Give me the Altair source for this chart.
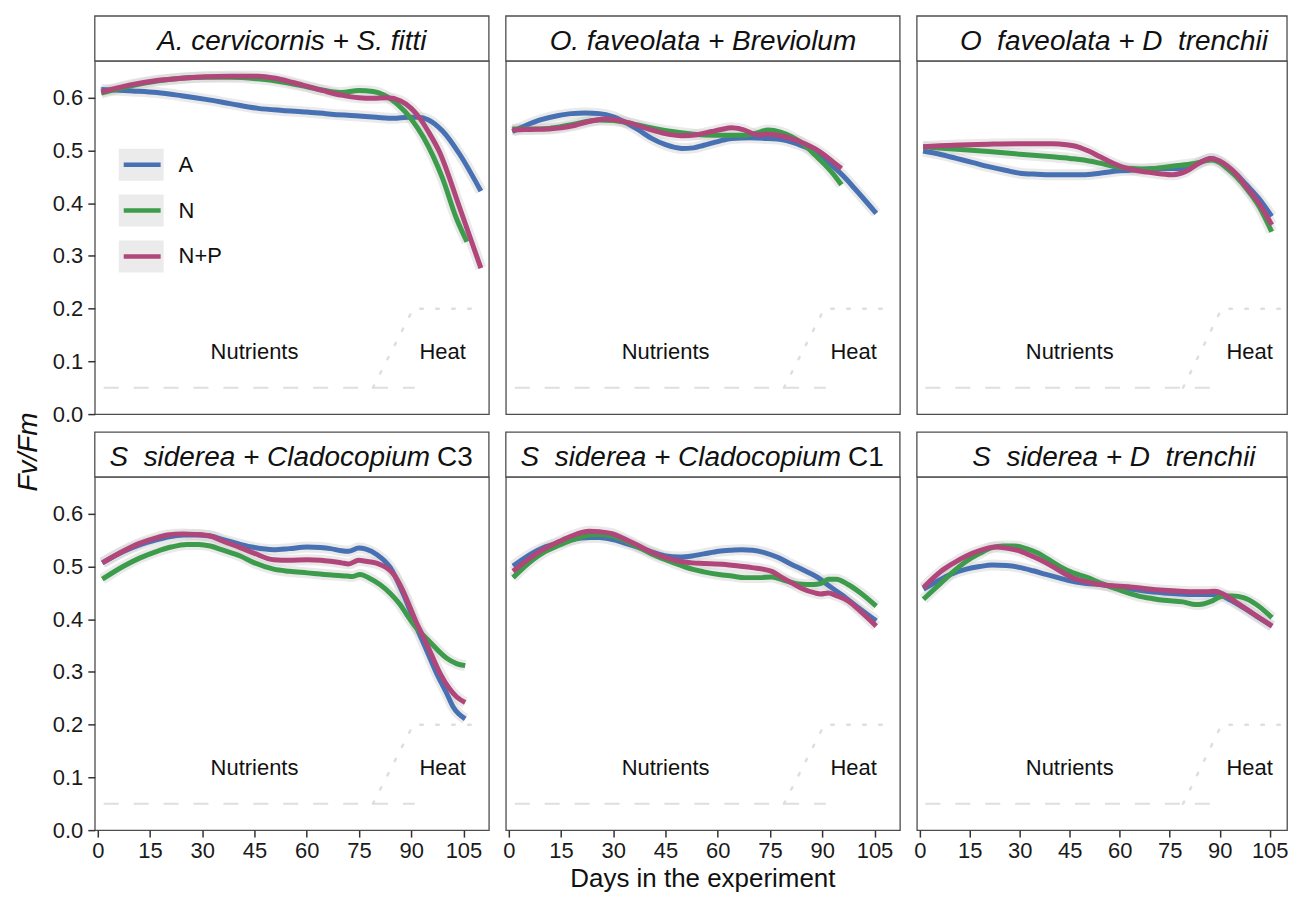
import altair as alt
import pandas as pd

FONT = "Liberation Sans"
TREATMENTS = ["A", "N", "N+P"]
TREATMENT_COLORS = ["#4771b2", "#3d9b4c", "#b04679"]

X_TICKS = [0, 15, 30, 45, 60, 75, 90, 105]
Y_TICKS = [0.0, 0.1, 0.2, 0.3, 0.4, 0.5, 0.6]
X_DOMAIN = [-0.86, 112.3]
X_DOMAIN_RIGHT = [-0.86, 110.2]
Y_DOMAIN = [0.0, 0.67]

NUTRIENT_DAYS = [1.7, 91]
NUTRIENT_LEVEL = [0.05, 0.05]
HEAT_DAYS = [79, 90.6, 109]
HEAT_LEVEL = [0.05, 0.2, 0.2]
PHASE_LABELS = ["Nutrients", "Heat"]
PHASE_LABEL_DAYS = [45, 99]
PHASE_LABEL_Y = [0.118, 0.118]

TITLES_ITALIC = ["A. cervicornis + S. fitti", "O. faveolata + Breviolum",
                 "O\u00a0 faveolata + D\u00a0 trenchii",
                 "S\u00a0 siderea + Cladocopium", "S\u00a0 siderea + Cladocopium",
                 "S\u00a0 siderea + D\u00a0 trenchii"]
TITLES_PLAIN = ["", "", "", "C3", "C1", ""]

# ---- A. cervicornis + S. fitti
ACER_A = [(1, 0.616), (10, 0.613), (17, 0.610), (24, 0.604), (31, 0.597), (38, 0.589), (46, 0.580),
          (53, 0.576), (60, 0.573), (67, 0.569), (74, 0.566), (80, 0.563), (85, 0.561), (89, 0.563),
          (92, 0.563), (95, 0.558), (99, 0.537), (104, 0.492), (110, 0.423)]
ACER_N = [(1, 0.609), (9, 0.622), (17, 0.632), (24, 0.637), (31, 0.639), (38, 0.639), (46, 0.636),
          (53, 0.630), (60, 0.621), (66, 0.613), (70, 0.610), (75, 0.614), (79, 0.612), (82, 0.606),
          (86, 0.588), (90, 0.560), (93.5, 0.525), (99, 0.447), (103, 0.371), (106, 0.327)]
ACER_NP = [(1, 0.611), (9, 0.624), (17, 0.633), (24, 0.637), (31, 0.640), (38, 0.641), (46, 0.641),
           (51, 0.637), (56, 0.629), (60, 0.622), (65, 0.613), (70, 0.605), (75, 0.600), (79, 0.599),
           (83, 0.600), (87, 0.594), (90, 0.580), (92.5, 0.561), (95, 0.535), (98, 0.499), (104, 0.390),
           (110, 0.277)]

# ---- O. faveolata + Breviolum
OFB_A = [(1, 0.536), (5, 0.548), (9, 0.558), (14, 0.566), (18, 0.570), (22, 0.571), (26, 0.570),
         (30, 0.564), (33, 0.555), (37, 0.540), (41, 0.523), (45, 0.511), (49.6, 0.504), (53, 0.505),
         (56, 0.510), (60, 0.517), (64, 0.523), (69, 0.524), (73.5, 0.523), (79, 0.520), (83, 0.512),
         (86, 0.504), (89, 0.491), (92.6, 0.473), (96, 0.452), (99.3, 0.428), (105.5, 0.381)]
OFB_N = [(1, 0.541), (6, 0.541), (11.5, 0.542), (18, 0.549), (25.8, 0.558), (30, 0.557), (35.3, 0.551),
         (41, 0.543), (46.8, 0.536), (53, 0.531), (59.2, 0.529), (64, 0.529), (67.8, 0.529), (71, 0.533),
         (74.5, 0.539), (78, 0.535), (81.2, 0.526), (85, 0.510), (88, 0.491), (90.5, 0.475),
         (92.6, 0.460), (95.5, 0.435)]
OFB_NP = [(1, 0.539), (6, 0.540), (11.5, 0.541), (15, 0.543), (19.1, 0.548), (23, 0.555), (27.7, 0.560),
          (31, 0.558), (35.3, 0.551), (40, 0.541), (44.9, 0.532), (49.6, 0.528), (54, 0.530),
          (58.2, 0.536), (61, 0.540), (64, 0.543), (67, 0.540), (71.6, 0.530), (74, 0.531), (77.3, 0.529),
          (81, 0.523), (85, 0.513), (88, 0.503), (90.7, 0.491), (93, 0.479), (95.5, 0.466)]

# ---- O. faveolata + D. trenchii
OFD_A = [(1, 0.499), (6, 0.493), (11, 0.485), (16, 0.477), (21, 0.469), (26, 0.462), (30, 0.457),
         (35, 0.455), (40, 0.454), (45, 0.454), (49, 0.454), (54, 0.457), (59, 0.461), (64, 0.463),
         (68.4, 0.465), (72, 0.466), (76, 0.466), (80, 0.467), (84, 0.477), (87.5, 0.485), (90, 0.479),
         (92.2, 0.469), (95, 0.455), (98, 0.435), (102, 0.407), (105.6, 0.375)]
OFD_N = [(1, 0.507), (10, 0.503), (20.7, 0.498), (30, 0.493), (39.8, 0.488), (45, 0.485), (49.3, 0.482),
         (54, 0.476), (58.9, 0.469), (64, 0.466), (68.4, 0.465), (73, 0.468), (77, 0.471), (82, 0.475),
         (87.5, 0.482), (90, 0.477), (92.2, 0.466), (95, 0.450), (98, 0.428), (102, 0.392), (105.6, 0.346)]
OFD_NP = [(1, 0.507), (10, 0.510), (20.7, 0.512), (30, 0.513), (39.8, 0.513), (44, 0.511), (47.4, 0.507),
          (51, 0.498), (54.1, 0.488), (58, 0.476), (61.7, 0.467), (65, 0.462), (68.4, 0.459), (72, 0.456),
          (76, 0.454), (79.8, 0.460), (83, 0.473), (87.5, 0.485), (90, 0.480), (92.2, 0.471), (95, 0.455),
          (98, 0.431), (102, 0.398), (105.6, 0.359)]

# ---- S. siderea + Cladocopium C3
SC3_A = [(1.3, 0.507), (7.5, 0.529), (12, 0.541), (17, 0.551), (20, 0.556), (24.7, 0.560), (28, 0.560),
         (32.3, 0.558), (36, 0.551), (40.9, 0.542), (45, 0.536), (50.5, 0.532), (55, 0.534), (60.1, 0.537),
         (64, 0.536), (66.8, 0.534), (70, 0.530), (72, 0.529), (74.9, 0.535), (77, 0.533), (80.1, 0.523),
         (84, 0.498), (87.8, 0.447), (91.6, 0.384), (94.5, 0.340), (97.4, 0.296), (100, 0.262),
         (102.1, 0.233), (105.5, 0.211)]
SC3_N = [(1.3, 0.476), (7.5, 0.501), (12, 0.516), (17, 0.529), (21, 0.537), (25.6, 0.542), (29, 0.542),
         (32.3, 0.539), (36, 0.531), (40.9, 0.520), (45, 0.507), (50.5, 0.495), (55, 0.491), (60.1, 0.488),
         (65, 0.485), (71.5, 0.482), (73, 0.481), (75.3, 0.485), (78, 0.478), (81, 0.466), (84, 0.449),
         (86.8, 0.428), (89, 0.406), (90.7, 0.390), (95.5, 0.356), (100.2, 0.326), (103, 0.316),
         (105.5, 0.312)]
SC3_NP = [(1.3, 0.507), (7.5, 0.530), (12, 0.544), (17, 0.555), (20, 0.560), (24.7, 0.562), (28, 0.561),
          (32.3, 0.558), (36, 0.548), (40.9, 0.536), (45, 0.525), (50.5, 0.513), (55, 0.512),
          (60.1, 0.513), (64, 0.512), (66.8, 0.510), (70, 0.507), (72, 0.505), (74.9, 0.512), (77, 0.510),
          (81, 0.504), (85, 0.485), (87.5, 0.456), (89.7, 0.422), (91.6, 0.392), (93.6, 0.365),
          (96, 0.330), (98.4, 0.296), (101, 0.268), (103, 0.253), (105.5, 0.242)]

# ---- S. siderea + Cladocopium C1
SC1_A = [(1.2, 0.501), (6.9, 0.526), (10, 0.536), (14.6, 0.545), (18, 0.551), (23.1, 0.555), (26, 0.555),
         (29.8, 0.551), (33, 0.545), (37.4, 0.536), (41, 0.528), (45, 0.520), (49, 0.518), (52.6, 0.520),
         (56, 0.524), (60.3, 0.529), (64, 0.531), (66.9, 0.532), (70, 0.531), (73.6, 0.526), (77, 0.518),
         (81.2, 0.504), (85, 0.492), (88.8, 0.479), (92, 0.463), (95.5, 0.447), (100, 0.424),
         (105.5, 0.397)]
SC1_N = [(1.2, 0.479), (6.9, 0.513), (10, 0.527), (14.6, 0.541), (18, 0.550), (23.1, 0.560), (26, 0.561),
         (29.8, 0.558), (33, 0.550), (37.4, 0.536), (41, 0.524), (45, 0.513), (49, 0.503), (52.6, 0.495),
         (56, 0.490), (60.3, 0.485), (64, 0.482), (67.8, 0.479), (72, 0.479), (75.5, 0.480), (79, 0.474),
         (83.1, 0.467), (87.9, 0.466), (90, 0.469), (91.7, 0.476), (94, 0.476), (97.4, 0.466),
         (101, 0.450), (105.5, 0.425)]
SC1_NP = [(1.2, 0.491), (6.9, 0.520), (10, 0.533), (14.6, 0.548), (18, 0.558), (23.1, 0.567), (26, 0.566),
          (29.8, 0.562), (33, 0.553), (37.4, 0.539), (41, 0.527), (45, 0.517), (49, 0.510), (52.6, 0.507),
          (56, 0.506), (62.2, 0.504), (66, 0.501), (69.8, 0.498), (75.5, 0.491), (78, 0.481),
          (81.2, 0.469), (84, 0.459), (87.9, 0.450), (89.5, 0.448), (91.7, 0.450), (94, 0.445),
          (97.4, 0.435), (101, 0.415), (105.5, 0.387)]

# ---- S. siderea + D. trenchii
SD_A = [(1.1, 0.457), (6.4, 0.476), (10, 0.487), (14, 0.495), (18, 0.500), (21.7, 0.503), (26, 0.502),
        (30.3, 0.498), (34, 0.492), (37.9, 0.485), (42, 0.478), (46.5, 0.471), (50, 0.468), (54.1, 0.466),
        (59, 0.461), (63.7, 0.457), (68, 0.453), (73.2, 0.450), (78, 0.448), (82.8, 0.447), (86, 0.447),
        (89.4, 0.447), (93, 0.437), (97.1, 0.422), (101, 0.406), (105.7, 0.387)]
SD_N = [(1.1, 0.438), (6.4, 0.469), (10, 0.490), (14, 0.510), (18, 0.525), (21.7, 0.536), (25, 0.539),
        (28.4, 0.539), (32, 0.534), (35.2, 0.526), (39, 0.512), (42.7, 0.498), (46, 0.488), (50.4, 0.479),
        (54, 0.469), (58, 0.460), (62, 0.451), (65.7, 0.444), (70, 0.439), (73.2, 0.436), (79, 0.433),
        (82.8, 0.428), (85, 0.429), (87.5, 0.434), (89.5, 0.441), (91.4, 0.444), (94, 0.444),
        (97.1, 0.441), (101, 0.428), (105.7, 0.403)]
SD_NP = [(1.1, 0.460), (6.4, 0.491), (10, 0.506), (14, 0.520), (18, 0.530), (22.6, 0.537), (26, 0.535),
         (30.3, 0.529), (34, 0.519), (37.9, 0.507), (42, 0.492), (46.5, 0.477), (50, 0.471), (54.1, 0.466),
         (59, 0.463), (63.7, 0.461), (68, 0.458), (73.2, 0.455), (78, 0.453), (82.8, 0.452), (86, 0.452),
         (88.5, 0.453), (91, 0.448), (95.2, 0.431), (100, 0.411), (105.7, 0.387)]

PANEL_SERIES = [
    [ACER_A, ACER_N, ACER_NP],
    [OFB_A, OFB_N, OFB_NP],
    [OFD_A, OFD_N, OFD_NP],
    [SC3_A, SC3_N, SC3_NP],
    [SC1_A, SC1_N, SC1_NP],
    [SD_A, SD_N, SD_NP],
]

W, W_RIGHT, H = 395, 371, 354
STRIP_H = 45
BORDER = "#4d4d4d"
ONE = pd.DataFrame({"k": [0]})


def anchor(x, y):
    # tiny white rect that fixes the drawing's outer bounds
    return alt.Chart(ONE).mark_rect(fill="white").encode(
        x=alt.value(x), x2=alt.value(x + 1), y=alt.value(y), y2=alt.value(y + 1))


def make_panel(idx):
    row, col = divmod(idx, 3)
    show_x = row == 1
    show_y = col == 0
    width = W_RIGHT if col == 2 else W
    xdom = X_DOMAIN_RIGHT if col == 2 else X_DOMAIN
    recs = []
    for trt, pts in zip(TREATMENTS, PANEL_SERIES[idx]):
        for d, v in pts:
            recs.append({"day": d, "fvfm": v, "trt": trt})
    df = pd.DataFrame(recs)

    x_axis = alt.Axis(values=X_TICKS, labelPadding=3) if show_x else None
    y_axis = alt.Axis(values=Y_TICKS, format=".1f", labelPadding=5) if show_y else None
    X = alt.X("day:Q", scale=alt.Scale(domain=xdom, nice=False, zero=False), axis=x_axis, title=None)
    Y = alt.Y("fvfm:Q", scale=alt.Scale(domain=Y_DOMAIN, nice=False, zero=False), axis=y_axis, title=None)

    nut = pd.DataFrame({"day": NUTRIENT_DAYS, "fvfm": NUTRIENT_LEVEL})
    heat = pd.DataFrame({"day": HEAT_DAYS, "fvfm": HEAT_LEVEL})
    lab = pd.DataFrame({"day": PHASE_LABEL_DAYS, "fvfm": PHASE_LABEL_Y, "txt": PHASE_LABELS})

    layers = [
        alt.Chart(nut).mark_line(color="#dedede", strokeWidth=2, strokeDash=[15, 15]).encode(x=X, y=Y),
        alt.Chart(heat).mark_line(color="#dedede", strokeWidth=2.5, strokeDash=[2.5, 13.5],
                                  strokeCap="round", clip=True).encode(x=X, y=Y),
        alt.Chart(lab).mark_text(font=FONT, fontSize=22, color="#111111", baseline="middle",
                                 align="center").encode(x=X, y=Y, text="txt:N"),
        alt.Chart(df).mark_line(color="#d0d0d0", strokeWidth=11, opacity=0.45,
                                interpolate="monotone").encode(x=X, y=Y, detail="trt:N"),
        alt.Chart(df).mark_line(strokeWidth=5, interpolate="monotone").encode(
            x=X, y=Y,
            color=alt.Color("trt:N", scale=alt.Scale(domain=TREATMENTS, range=TREATMENT_COLORS),
                            legend=None)),
        # strip box above the panel
        alt.Chart(ONE).mark_rect(fill="white", stroke=BORDER, strokeWidth=1.3).encode(
            x=alt.value(0), x2=alt.value(width), y=alt.value(-STRIP_H), y2=alt.value(0)),
    ]
    if TITLES_PLAIN[idx]:
        layers.append(alt.Chart(ONE).mark_text(
            text=TITLES_ITALIC[idx], font=FONT, fontSize=28, fontStyle="italic", align="right",
            baseline="alphabetic", color="#111111").encode(x=alt.value(336), y=alt.value(-11)))
        layers.append(alt.Chart(ONE).mark_text(
            text=TITLES_PLAIN[idx], font=FONT, fontSize=28, align="left",
            baseline="alphabetic", color="#111111").encode(x=alt.value(343), y=alt.value(-11)))
    else:
        layers.append(alt.Chart(ONE).mark_text(
            text=TITLES_ITALIC[idx], font=FONT, fontSize=28, fontStyle="italic", align="center",
            baseline="alphabetic", color="#111111").encode(x=alt.value(W / 2), y=alt.value(-11)))

    if idx == 0:
        layers.append(anchor(-86, -50))
        # y title
        layers.append(alt.Chart(ONE).mark_text(
            text="Fv/Fm", font=FONT, fontSize=28, fontStyle="italic", angle=270, align="center",
            baseline="alphabetic", color="#111111").encode(x=alt.value(-58), y=alt.value(392)))
        # in-panel legend
        for i, (trt, colr) in enumerate(zip(TREATMENTS, TREATMENT_COLORS)):
            cy = 104 + 46 * i
            layers.append(alt.Chart(ONE).mark_rect(fill="#ebebeb").encode(
                x=alt.value(24), x2=alt.value(69), y=alt.value(cy - 16), y2=alt.value(cy + 16)))
            layers.append(alt.Chart(ONE).mark_rule(color=colr, strokeWidth=4.5).encode(
                x=alt.value(29), x2=alt.value(66), y=alt.value(cy)))
            layers.append(alt.Chart(ONE).mark_text(
                text=trt, font=FONT, fontSize=22, align="left", baseline="middle",
                color="#111111").encode(x=alt.value(84), y=alt.value(cy)))
    if idx == 2:
        layers.append(anchor(372, 10))
    if idx == 4:
        layers.append(anchor(10, 430))
        layers.append(alt.Chart(ONE).mark_text(
            text="Days in the experiment", font=FONT, fontSize=26, align="center",
            baseline="alphabetic", color="#111111").encode(x=alt.value(W / 2), y=alt.value(411)))

    return alt.layer(*layers).properties(width=width, height=H)


panels = [make_panel(i) for i in range(6)]

# outer bounds fixed by anchors: left -86 / top -50 (panel 1), right 373 (panel 3), bottom 431 (panel 5);
# the negative bottom padding trims the drawing so that the page needs no scrolling
chart = alt.concat(
    *panels, columns=3, spacing={"row": 63, "column": 17}, bounds="flush", align="each"
).properties(
    padding={"left": 0, "top": 1, "right": 0, "bottom": -13}
).configure_view(
    stroke=BORDER, strokeWidth=1.3
).configure_axis(
    labelFont=FONT, labelFontSize=22, labelColor="#1a1a1a", tickColor="#333333",
    tickSize=7, tickWidth=1.5, domain=False, grid=False
)

chart.save("out.html", embed_options={"renderer": "svg", "actions": False})
